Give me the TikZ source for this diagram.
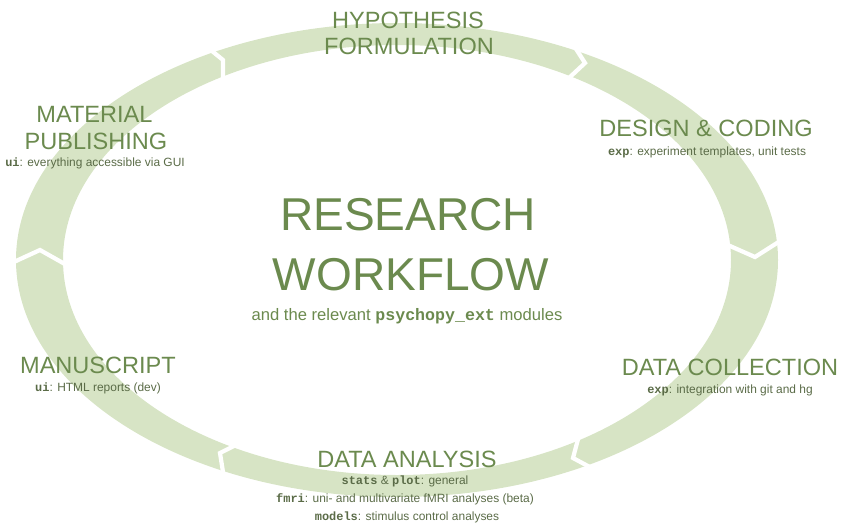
\documentclass[tikz,border=0pt]{standalone}
\usepackage{fontspec}
\setmainfont{Liberation Sans}
\setmonofont{Liberation Mono}
\usepackage{xcolor}
\usepackage{tikz}

\definecolor{ringgreen}{HTML}{D7E4C5}
\definecolor{stagegreen}{HTML}{6B8A4E}
\definecolor{notegreen}{HTML}{5A6B47}
\newcommand{\modname}[1]{\textbf{\texttt{#1}}}

\tikzset{
  ring/.style={fill=ringgreen, even odd rule},
  cut/.style={draw=white, line width=2.4pt, line join=miter, shorten <=-3pt, shorten >=-3pt},
  stage/.style={anchor=base, inner sep=0pt, text=stagegreen, font=\fontsize{13.4}{16}\selectfont},
  headline/.style={anchor=base, inner sep=0pt, text=stagegreen, font=\fontsize{26.2}{30}\selectfont},
  note/.style={anchor=base, inner sep=0pt, text=notegreen, font=\fontsize{6.8}{8}\selectfont},
  lead/.style={anchor=base, inner sep=0pt, text=stagegreen, font=\fontsize{9.45}{11}\selectfont}
}

\begin{document}
\begin{tikzpicture}
% ciclo del workflow di ricerca: anello a sei frecce con le fasi
\useasboundingbox (0,0) rectangle (17,10.58);
\coordinate (C) at (7.94,5.38);
\coordinate (J1o) at (4.24,9.56);
\coordinate (J1t) at (4.46,9.38);
\coordinate (J1i) at (4.46,9.04);
\coordinate (J2o) at (11.56,9.54);
\coordinate (J2t) at (11.70,9.32);
\coordinate (J2i) at (11.40,9.04);
\coordinate (J3o) at (15.54,5.72);
\coordinate (J3t) at (15.10,5.44);
\coordinate (J3i) at (14.60,5.66);
\coordinate (J4o) at (11.72,1.28);
\coordinate (J4t) at (11.46,1.42);
\coordinate (J4i) at (11.54,1.72);
\coordinate (J5o) at (4.46,1.14);
\coordinate (J5t) at (4.40,1.52);
\coordinate (J5i) at (4.64,1.64);
\coordinate (J6o) at (0.32,5.36);
\coordinate (J6t) at (0.80,5.58);
\coordinate (J6i) at (1.26,5.32);

\fill[ring] (C) ellipse [x radius=7.62, y radius=4.74] (C) ellipse [x radius=6.68, y radius=4.30];

\draw[cut] (J1o) -- (J1t) -- (J1i);
\draw[cut] (J2o) -- (J2t) -- (J2i);
\draw[cut] (J3o) -- (J3t) -- (J3i);
\draw[cut] (J4o) -- (J4t) -- (J4i);
\draw[cut] (J5o) -- (J5t) -- (J5i);
\draw[cut] (J6o) -- (J6t) -- (J6i);

\node[headline] (research) at (8.16,5.98) {RESEARCH};
\node[headline] (workflow) at (8.22,4.78) {WORKFLOW};
\node[lead] (relevant) at (8.14,4.18) {and the relevant \modname{psychopy\_ext} modules};

\node[stage] (hypo) at (8.16,10.02) {HYPOTHESIS};
\node[stage] (formu) at (8.18,9.50) {FORMULATION};

\node[stage] (design) at (14.12,7.85) {DESIGN \& CODING};
\node[note] (designsub) at (14.14,7.48) {\modname{exp}: experiment templates, unit tests};

\node[stage] (collect) at (14.60,3.08) {DATA COLLECTION};
\node[note] (collectsub) at (14.60,2.72) {\modname{exp}: integration with git and hg};

\node[stage] (analysis) at (8.14,1.24) {DATA ANALYSIS};
\node[note] (statsub) at (8.10,0.90) {\modname{stats} \& \modname{plot}: general};
\node[note] (fmrisub) at (8.10,0.54) {\modname{fmri}: uni- and multivariate fMRI analyses (beta)};
\node[note] (modelsub) at (8.14,0.18) {\modname{models}: stimulus control analyses};

\node[stage] (manus) at (1.96,3.12) {MANUSCRIPT};
\node[note] (manussub) at (1.96,2.76) {\modname{ui}: HTML reports (dev)};

\node[stage] (material) at (1.89,8.14) {MATERIAL};
\node[stage] (publish) at (1.92,7.60) {PUBLISHING};
\node[note] (publishsub) at (1.90,7.26) {\modname{ui}: everything accessible via GUI};
\end{tikzpicture}
\end{document}
